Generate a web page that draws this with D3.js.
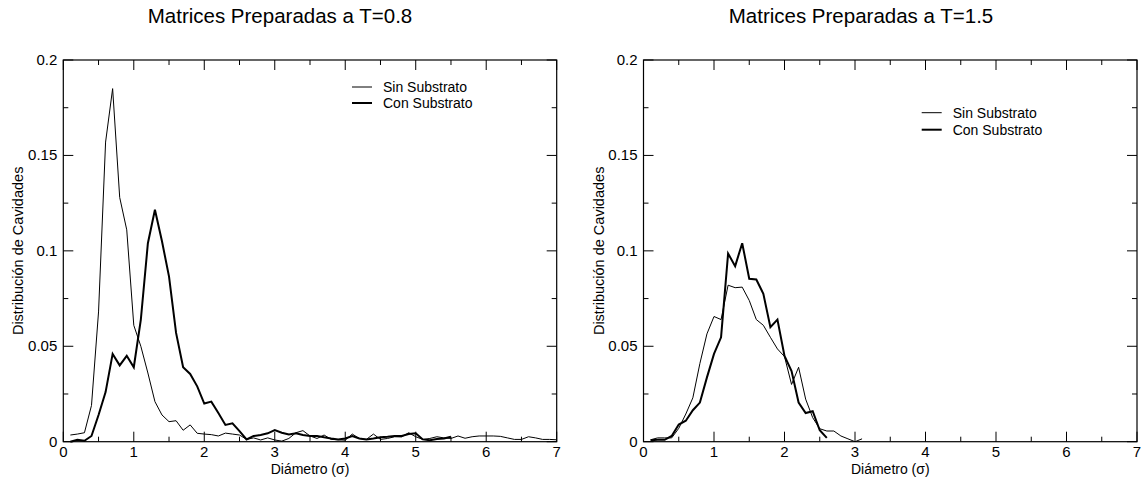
<!DOCTYPE html>
<html>
<head>
<meta charset="utf-8">
<script src="https://cdn.jsdelivr.net/npm/d3@7/dist/d3.min.js"></script>
<style>
  html, body { margin: 0; padding: 0; background: #fff; }
  svg { display: block; }
  text { font-family: "Liberation Sans", Arial, Helvetica, sans-serif; fill: #000; }
</style>
</head>
<body>
<svg id="chart" width="1141" height="482"></svg>
<script>
// diameter bins (sigma)
const diamLeftSin = [0.1,0.2,0.3,0.4,0.5,0.6,0.7,0.8,0.9,1.0,1.1,1.2,1.3,1.4,1.5,1.6,1.7,1.8,1.9,2.0,
  2.1,2.2,2.3,2.4,2.5,2.6,2.7,2.8,2.9,3.0,3.1,3.2,3.3,3.4,3.5,3.6,3.7,3.8,3.9,4.0,
  4.1,4.2,4.3,4.4,4.5,4.6,4.7,4.8,4.9,5.0,5.1,5.2,5.3,5.4,5.5,5.6,5.7,5.8,5.9,6.0,
  6.1,6.2,6.3,6.4,6.5,6.6,6.7,6.8,6.9,7.0];
const leftSin = [0.0035,0.004,0.0047,0.019,0.068,0.157,0.185,0.128,0.111,0.061,
  0.050,0.036,0.021,0.014,0.0105,0.011,0.006,0.0088,0.0044,0.004,
  0.0037,0.003,0.0045,0.004,0.0035,0.0012,0.002,0.0009,0.002,0.0009,
  0.0003,0.0017,0.0047,0.0058,0.003,0.0017,0.0035,0.0012,0.001,0.0008,
  0.004,0.0017,0.0012,0.004,0.0012,0.0017,0.0026,0.0025,0.0047,0.0026,
  0.0012,0.0017,0.0026,0.002,0.0017,0.003,0.0018,0.0026,0.003,0.003,
  0.003,0.0028,0.002,0.0012,0.0012,0.0026,0.002,0.0012,0.0012,0.001];

const diamLeftCon = [0.1,0.2,0.3,0.4,0.5,0.6,0.7,0.8,0.9,1.0,1.1,1.2,1.3,1.4,1.5,1.6,1.7,1.8,1.9,2.0,
  2.1,2.2,2.3,2.4,2.5,2.6,2.7,2.8,2.9,3.0,3.1,3.2,3.3,3.4,3.5,3.6,3.7,3.8,3.9,4.0,
  4.1,4.2,4.3,4.4,4.5,4.6,4.7,4.8,4.9,5.0,5.1,5.2,5.3,5.4,5.5];
const leftCon = [0.0,0.001,0.0005,0.003,0.014,0.026,0.046,0.040,0.045,0.039,
  0.064,0.104,0.1215,0.105,0.0865,0.057,0.039,0.0355,0.029,0.020,
  0.021,0.015,0.0088,0.0096,0.0055,0.0012,0.003,0.0035,0.0044,0.0061,
  0.0047,0.0038,0.0044,0.0035,0.003,0.003,0.0023,0.0017,0.0012,0.0017,
  0.003,0.0017,0.0012,0.0017,0.0023,0.0026,0.003,0.003,0.004,0.0044,
  0.0012,0.0008,0.0014,0.0017,0.0026];

const diamRightSin = [0.1,0.2,0.3,0.4,0.5,0.6,0.7,0.8,0.9,1.0,1.1,1.2,1.3,1.4,1.5,1.6,1.7,1.8,1.9,2.0,
  2.1,2.2,2.3,2.4,2.5,2.6,2.7,2.8,2.9,3.0,3.1];
const rightSin = [0.001,0.002,0.002,0.002,0.007,0.0145,0.023,0.041,0.0565,0.0656,
  0.064,0.082,0.0807,0.081,0.074,0.064,0.061,0.0547,0.0486,0.0446,
  0.030,0.039,0.0223,0.0126,0.0068,0.0056,0.0056,0.003,0.0015,0.0,0.0015];

const diamRightCon = [0.1,0.2,0.3,0.4,0.5,0.6,0.7,0.8,0.9,1.0,1.1,1.2,1.3,1.4,1.5,1.6,1.7,1.8,1.9,2.0,
  2.1,2.2,2.3,2.4,2.5,2.6];
const rightCon = [0.0007,0.001,0.001,0.003,0.009,0.011,0.0165,0.0205,0.0337,0.046,
  0.0547,0.0986,0.092,0.104,0.0854,0.085,0.0775,0.060,0.064,0.045,
  0.037,0.0205,0.015,0.016,0.006,0.002];

const xMajorTicks = [0, 1, 2, 3, 4, 5, 6, 7];
const xMinorTicks = [0.5, 1.5, 2.5, 3.5, 4.5, 5.5, 6.5];
const yMajorTicks = [0, 0.05, 0.1, 0.15, 0.2];
const yMajorLabels = ["0", "0.05", "0.1", "0.15", "0.2"];
const yMinorTicks = [0.025, 0.075, 0.125, 0.175];
const seriesNames = ["Sin Substrato", "Con Substrato"];
const titles = ["Matrices Preparadas a T=0.8", "Matrices Preparadas a T=1.5"];

const svg = d3.select("#chart");

function zip(xs, ys) {
  return xs.map(function (x, i) { return [x, ys[i]]; });
}

function drawPanel(opts) {
  const x = d3.scaleLinear().domain([0, 7]).range([opts.left, opts.right]);
  const y = d3.scaleLinear().domain([0, 0.2]).range([opts.bottom, opts.top]);
  const g = svg.append("g");

  // title
  g.append("text")
    .attr("x", opts.titleX)
    .attr("y", 23)
    .attr("text-anchor", "middle")
    .attr("font-size", "20.5px")
    .text(opts.title);

  const line = d3.line()
    .x(function (d) { return x(d[0]); })
    .y(function (d) { return y(d[1]); });

  g.append("path")
    .attr("d", line(opts.sin))
    .attr("fill", "none")
    .attr("stroke", "#000")
    .attr("stroke-width", 1);

  g.append("path")
    .attr("d", line(opts.con))
    .attr("fill", "none")
    .attr("stroke", "#000")
    .attr("stroke-width", 2);

  // frame
  g.append("rect")
    .attr("x", opts.left)
    .attr("y", opts.top)
    .attr("width", opts.right - opts.left)
    .attr("height", opts.bottom - opts.top)
    .attr("fill", "none")
    .attr("stroke", "#000")
    .attr("stroke-width", 1.2);

  const ticks = g.append("g").attr("stroke", "#000").attr("stroke-width", 1);

  function xTicks(vals, len) {
    vals.forEach(function (v) {
      ticks.append("line").attr("x1", x(v)).attr("x2", x(v))
        .attr("y1", opts.bottom).attr("y2", opts.bottom - len);
      ticks.append("line").attr("x1", x(v)).attr("x2", x(v))
        .attr("y1", opts.top).attr("y2", opts.top + len);
    });
  }
  function yTicks(vals, len) {
    vals.forEach(function (v) {
      ticks.append("line").attr("y1", y(v)).attr("y2", y(v))
        .attr("x1", opts.left).attr("x2", opts.left + len);
      ticks.append("line").attr("y1", y(v)).attr("y2", y(v))
        .attr("x1", opts.right).attr("x2", opts.right - len);
    });
  }
  xTicks(xMajorTicks, 10);
  xTicks(xMinorTicks, 5);
  yTicks(yMajorTicks, 10);
  yTicks(yMinorTicks, 5);

  g.append("g").selectAll("text")
    .data(xMajorTicks)
    .enter()
    .append("text")
    .attr("x", function (d) { return x(d); })
    .attr("y", opts.bottom + 15)
    .attr("text-anchor", "middle")
    .attr("font-size", "15px")
    .text(function (d) { return d; });

  g.append("g").selectAll("text")
    .data(yMajorTicks)
    .enter()
    .append("text")
    .attr("x", opts.left - 6)
    .attr("y", function (d) { return y(d) + 5; })
    .attr("text-anchor", "end")
    .attr("font-size", "15px")
    .text(function (d, i) { return yMajorLabels[i]; });

  g.append("text")
    .attr("x", (opts.left + opts.right) / 2)
    .attr("y", 474)
    .attr("text-anchor", "middle")
    .attr("font-size", "14px")
    .text("Diámetro (σ)");

  g.append("text")
    .attr("transform", "translate(" + (opts.left - 40) + "," + ((opts.top + opts.bottom) / 2) + ") rotate(-90)")
    .attr("text-anchor", "middle")
    .attr("font-size", "14.5px")
    .text("Distribución de Cavidades");

  // legend
  const legend = g.append("g");
  [1, 2].forEach(function (w, i) {
    const ly = opts.legendY + i * opts.legendGap;
    legend.append("line")
      .attr("x1", opts.legendX).attr("x2", opts.legendX + 20)
      .attr("y1", ly).attr("y2", ly)
      .attr("stroke", "#000").attr("stroke-width", w);
    legend.append("text")
      .attr("x", opts.legendX + 31)
      .attr("y", ly + 5)
      .attr("font-size", "14px")
      .text(seriesNames[i]);
  });
}

drawPanel({
  left: 63.3, right: 556.7, top: 60, bottom: 441.7,
  title: titles[0], titleX: 280,
  sin: zip(diamLeftSin, leftSin), con: zip(diamLeftCon, leftCon),
  legendX: 352, legendY: 87, legendGap: 16
});

drawPanel({
  left: 643.5, right: 1137, top: 60, bottom: 441.7,
  title: titles[1], titleX: 861,
  sin: zip(diamRightSin, rightSin), con: zip(diamRightCon, rightCon),
  legendX: 921.7, legendY: 112.7, legendGap: 17
});
</script>
</body>
</html>
